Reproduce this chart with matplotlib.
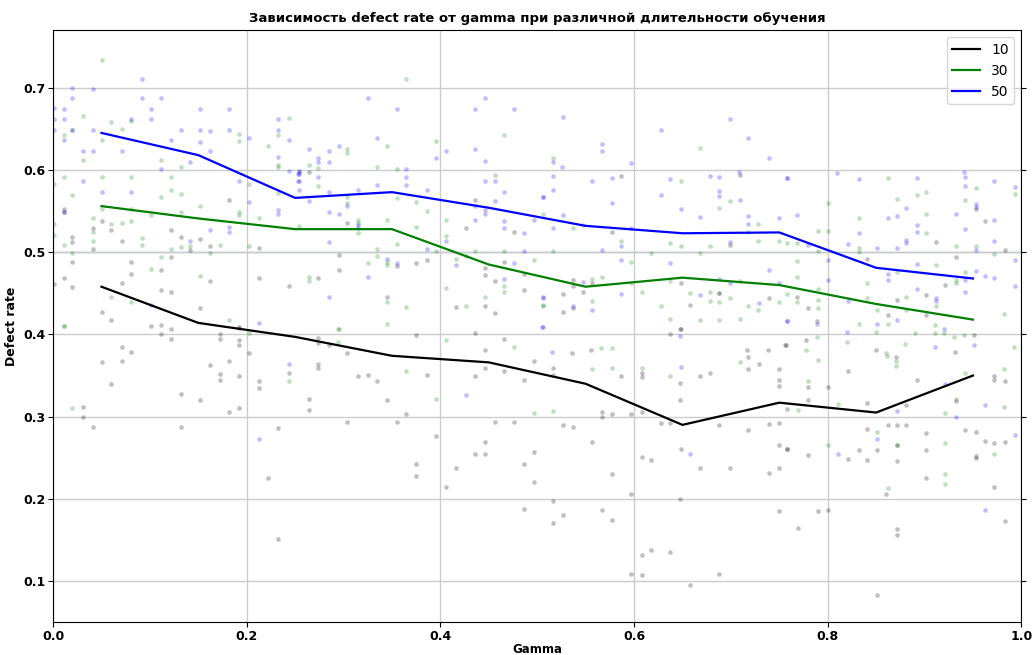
import numpy as np
import matplotlib
matplotlib.use("Agg")
import matplotlib.pyplot as plt

# mean defect rate per gamma bin
gamma_bins = [0.05, 0.15, 0.25, 0.35, 0.45, 0.55, 0.65, 0.75, 0.85, 0.95]
mean_10 = [0.458, 0.414, 0.397, 0.374, 0.366, 0.340, 0.290, 0.317, 0.305, 0.350]
mean_30 = [0.556, 0.541, 0.528, 0.528, 0.485, 0.458, 0.469, 0.460, 0.437, 0.418]
mean_50 = [0.645, 0.618, 0.566, 0.573, 0.554, 0.532, 0.523, 0.524, 0.481, 0.468]

# raw runs (gamma, defect rate)
runs_10 = [
    (0.182, 0.564), (0.011, 0.552), (0.011, 0.549), (0.051, 0.538), (0.060, 0.527), (0.122, 0.527),
    (0.041, 0.530), (0.020, 0.518), (0.020, 0.512), (0.071, 0.514), (0.132, 0.518), (0.152, 0.516),
    (0.162, 0.507), (0.041, 0.504), (0.141, 0.503), (0.213, 0.505), (0.020, 0.488), (0.081, 0.488),
    (0.122, 0.494), (0.011, 0.468), (0.001, 0.461), (0.020, 0.458), (0.071, 0.462), (0.081, 0.473),
    (0.111, 0.478), (0.111, 0.454), (0.122, 0.451), (0.162, 0.465), (0.213, 0.469), (0.244, 0.459),
    (0.152, 0.432), (0.051, 0.427), (0.060, 0.417), (0.101, 0.410), (0.111, 0.412), (0.122, 0.407),
    (0.192, 0.409), (0.111, 0.400), (0.122, 0.395), (0.172, 0.401), (0.172, 0.394), (0.192, 0.408),
    (0.192, 0.393), (0.192, 0.387), (0.071, 0.385), (0.081, 0.379), (0.202, 0.377), (0.051, 0.366),
    (0.071, 0.368), (0.162, 0.363), (0.182, 0.368), (0.172, 0.352), (0.172, 0.345), (0.192, 0.350),
    (0.213, 0.343), (0.213, 0.335), (0.244, 0.353), (0.060, 0.340), (0.132, 0.327), (0.152, 0.320),
    (0.031, 0.312), (0.192, 0.311), (0.182, 0.306), (0.031, 0.299), (0.041, 0.288), (0.132, 0.287),
    (0.232, 0.286), (0.222, 0.226), (0.232, 0.151),
    (0.264, 0.597), (0.254, 0.597), (0.436, 0.564), (0.304, 0.536), (0.426, 0.530), (0.476, 0.524),
    (0.295, 0.496), (0.386, 0.491), (0.375, 0.487), (0.355, 0.483), (0.295, 0.478), (0.274, 0.469),
    (0.446, 0.481), (0.446, 0.472), (0.466, 0.488), (0.456, 0.465), (0.486, 0.474), (0.486, 0.454),
    (0.345, 0.445), (0.416, 0.433), (0.446, 0.435), (0.456, 0.426),
    (0.274, 0.396), (0.274, 0.389), (0.285, 0.387), (0.304, 0.377), (0.274, 0.364), (0.274, 0.359),
    (0.315, 0.350), (0.325, 0.351), (0.335, 0.343), (0.375, 0.399), (0.386, 0.351), (0.264, 0.322),
    (0.264, 0.308), (0.345, 0.320), (0.365, 0.303), (0.304, 0.294), (0.355, 0.294), (0.395, 0.276),
    (0.375, 0.243), (0.375, 0.228), (0.406, 0.215), (0.416, 0.238), (0.436, 0.402), (0.466, 0.395),
    (0.446, 0.381), (0.497, 0.368), (0.446, 0.359), (0.466, 0.356), (0.436, 0.350), (0.486, 0.345),
    (0.456, 0.294), (0.476, 0.293), (0.446, 0.269), (0.436, 0.254), (0.446, 0.254), (0.486, 0.242),
    (0.497, 0.257), (0.497, 0.221), (0.486, 0.188),
    (0.587, 0.593), (0.709, 0.594), (0.577, 0.524), (0.699, 0.509), (0.537, 0.466), (0.537, 0.459),
    (0.557, 0.463), (0.547, 0.452), (0.527, 0.449), (0.648, 0.463), (0.688, 0.450), (0.527, 0.427),
    (0.537, 0.432), (0.658, 0.436), (0.739, 0.444), (0.648, 0.406),
    (0.647, 0.406), (0.637, 0.400), (0.536, 0.377), (0.556, 0.381), (0.516, 0.359), (0.516, 0.351),
    (0.587, 0.350), (0.608, 0.353), (0.608, 0.348), (0.647, 0.341), (0.647, 0.320), (0.668, 0.349),
    (0.678, 0.353), (0.717, 0.381), (0.718, 0.373), (0.718, 0.358), (0.729, 0.364), (0.738, 0.381),
    (0.750, 0.358), (0.750, 0.345), (0.750, 0.337), (0.756, 0.387), (0.567, 0.306), (0.567, 0.299),
    (0.577, 0.303), (0.597, 0.303), (0.608, 0.306), (0.527, 0.290), (0.537, 0.288), (0.628, 0.292),
    (0.637, 0.292), (0.688, 0.290), (0.718, 0.284), (0.739, 0.291), (0.750, 0.292), (0.557, 0.269),
    (0.608, 0.251), (0.618, 0.247), (0.648, 0.261), (0.750, 0.265), (0.758, 0.261), (0.668, 0.238),
    (0.699, 0.237), (0.739, 0.232), (0.750, 0.238), (0.577, 0.230), (0.516, 0.197), (0.527, 0.181),
    (0.516, 0.171), (0.567, 0.186), (0.577, 0.174), (0.597, 0.206), (0.647, 0.200), (0.750, 0.185),
    (0.608, 0.132), (0.618, 0.138), (0.637, 0.136), (0.597, 0.109), (0.608, 0.107), (0.688, 0.109),
    (0.658, 0.095),
    (0.953, 0.553), (0.962, 0.538), (0.912, 0.512), (0.983, 0.503), (0.841, 0.492), (0.932, 0.494),
    (0.921, 0.460), (0.902, 0.448), (0.872, 0.442), (0.768, 0.445), (0.780, 0.432), (0.862, 0.424),
    (0.902, 0.424), (0.789, 0.416),
    (0.757, 0.387), (0.778, 0.393), (0.850, 0.381), (0.871, 0.373), (0.931, 0.379), (0.951, 0.399),
    (0.821, 0.355), (0.892, 0.345), (0.972, 0.349), (0.972, 0.345), (0.983, 0.343), (0.780, 0.336),
    (0.800, 0.336), (0.780, 0.320), (0.758, 0.309), (0.841, 0.316), (0.881, 0.314), (0.932, 0.319),
    (0.862, 0.290), (0.872, 0.290), (0.881, 0.290), (0.841, 0.285), (0.902, 0.280), (0.942, 0.284),
    (0.953, 0.281), (0.962, 0.270), (0.972, 0.268), (0.983, 0.269), (0.758, 0.261), (0.780, 0.253),
    (0.821, 0.249), (0.832, 0.259), (0.841, 0.247), (0.851, 0.259), (0.872, 0.266), (0.872, 0.246),
    (0.902, 0.259), (0.953, 0.252), (0.953, 0.250), (0.902, 0.226), (0.972, 0.215), (0.860, 0.206),
    (0.790, 0.185), (0.800, 0.186), (0.769, 0.165), (0.872, 0.163), (0.872, 0.156), (0.983, 0.173),
    (0.851, 0.083),
]

runs_30 = [
    (0.051, 0.734), (0.031, 0.666), (0.060, 0.658), (0.081, 0.659), (0.071, 0.650), (0.011, 0.643),
    (0.020, 0.649), (0.051, 0.637), (0.192, 0.644), (0.192, 0.635), (0.232, 0.643), (0.244, 0.663),
    (0.222, 0.629), (0.031, 0.612), (0.111, 0.612), (0.132, 0.604), (0.232, 0.606), (0.232, 0.604),
    (0.011, 0.591), (0.051, 0.591), (0.081, 0.591), (0.122, 0.592), (0.001, 0.583), (0.020, 0.570),
    (0.122, 0.575), (0.111, 0.567), (0.132, 0.571), (0.152, 0.556), (0.202, 0.583), (0.232, 0.572),
    (0.051, 0.552), (0.041, 0.542), (0.081, 0.552), (0.081, 0.538), (0.060, 0.534), (0.071, 0.536),
    (0.101, 0.545), (0.132, 0.549), (0.192, 0.549), (0.192, 0.545), (0.213, 0.542), (0.001, 0.534),
    (0.001, 0.521), (0.041, 0.524), (0.041, 0.513), (0.092, 0.517), (0.092, 0.509), (0.011, 0.509),
    (0.132, 0.506), (0.122, 0.504), (0.141, 0.507), (0.162, 0.499), (0.172, 0.509), (0.202, 0.508),
    (0.020, 0.499), (0.111, 0.494), (0.101, 0.480), (0.152, 0.471), (0.060, 0.445), (0.081, 0.440),
    (0.011, 0.410), (0.182, 0.417), (0.011, 0.410), (0.020, 0.310), (0.202, 0.402), (0.244, 0.343),
    (0.365, 0.711), (0.395, 0.635), (0.466, 0.642), (0.304, 0.625), (0.304, 0.620), (0.345, 0.629),
    (0.264, 0.606), (0.274, 0.602), (0.335, 0.604), (0.355, 0.601), (0.456, 0.594), (0.274, 0.581),
    (0.304, 0.567), (0.304, 0.560), (0.355, 0.566), (0.375, 0.561), (0.386, 0.550), (0.254, 0.532),
    (0.315, 0.539), (0.315, 0.535), (0.315, 0.523), (0.345, 0.539), (0.375, 0.531), (0.406, 0.539),
    (0.406, 0.520), (0.355, 0.510), (0.335, 0.504), (0.395, 0.502), (0.436, 0.501), (0.466, 0.501),
    (0.335, 0.495), (0.325, 0.487), (0.345, 0.488), (0.345, 0.484), (0.416, 0.492), (0.426, 0.495),
    (0.497, 0.491), (0.264, 0.470), (0.264, 0.465), (0.466, 0.459), (0.466, 0.452), (0.406, 0.457),
    (0.446, 0.446), (0.345, 0.440), (0.365, 0.433), (0.426, 0.435), (0.506, 0.435), (0.345, 0.413),
    (0.295, 0.407), (0.294, 0.406), (0.294, 0.391), (0.365, 0.355), (0.395, 0.322), (0.406, 0.393),
    (0.476, 0.385), (0.497, 0.304),
    (0.516, 0.614), (0.668, 0.627), (0.648, 0.587), (0.699, 0.562), (0.688, 0.554), (0.506, 0.546),
    (0.537, 0.530), (0.547, 0.533), (0.728, 0.534), (0.718, 0.525), (0.728, 0.514), (0.750, 0.514),
    (0.587, 0.514), (0.637, 0.511), (0.648, 0.507), (0.678, 0.507), (0.516, 0.501), (0.618, 0.499),
    (0.668, 0.499), (0.597, 0.488), (0.567, 0.470), (0.557, 0.467), (0.597, 0.462), (0.637, 0.465),
    (0.709, 0.465), (0.608, 0.452), (0.658, 0.450), (0.678, 0.452), (0.688, 0.450), (0.678, 0.441),
    (0.688, 0.440), (0.699, 0.444), (0.557, 0.441), (0.506, 0.436), (0.628, 0.434), (0.718, 0.434),
    (0.728, 0.430), (0.750, 0.440), (0.637, 0.419), (0.668, 0.418), (0.688, 0.418), (0.709, 0.419),
    (0.566, 0.384), (0.577, 0.384), (0.557, 0.358), (0.577, 0.359), (0.608, 0.359), (0.637, 0.349),
    (0.709, 0.367), (0.516, 0.307),
    (0.862, 0.590), (0.892, 0.570), (0.902, 0.573), (0.953, 0.578), (0.993, 0.571), (0.800, 0.560),
    (0.872, 0.565), (0.942, 0.563), (0.902, 0.546), (0.832, 0.541), (0.790, 0.526), (0.800, 0.526),
    (0.902, 0.523), (0.758, 0.511), (0.768, 0.511), (0.790, 0.502), (0.832, 0.505), (0.832, 0.500),
    (0.932, 0.507), (0.953, 0.508), (0.972, 0.498), (0.768, 0.489), (0.912, 0.484), (0.872, 0.476),
    (0.942, 0.476), (0.768, 0.470), (0.841, 0.462), (0.932, 0.466), (0.932, 0.462), (0.790, 0.455),
    (0.758, 0.449), (0.841, 0.444), (0.881, 0.445), (0.768, 0.440), (0.790, 0.442), (0.790, 0.432),
    (0.912, 0.434), (0.851, 0.430), (0.881, 0.430), (0.832, 0.413), (0.862, 0.413), (0.911, 0.411),
    (0.982, 0.425),
    (0.789, 0.397), (0.778, 0.381), (0.820, 0.391), (0.850, 0.403), (0.860, 0.377), (0.861, 0.374),
    (0.871, 0.368), (0.871, 0.362), (0.880, 0.388), (0.890, 0.402), (0.911, 0.402), (0.920, 0.402),
    (0.930, 0.397), (0.941, 0.399), (0.992, 0.385), (0.790, 0.369), (0.780, 0.343), (0.982, 0.358),
    (0.942, 0.353), (0.811, 0.315), (0.769, 0.308), (0.932, 0.322), (0.921, 0.304), (0.982, 0.312),
    (0.851, 0.281), (0.800, 0.266), (0.872, 0.266), (0.921, 0.268), (0.972, 0.254), (0.921, 0.230),
    (0.921, 0.218), (0.862, 0.213),
]

runs_50 = [
    (0.092, 0.711), (0.020, 0.700), (0.041, 0.699), (0.020, 0.687), (0.092, 0.687), (0.111, 0.687),
    (0.001, 0.675), (0.011, 0.674), (0.101, 0.674), (0.152, 0.674), (0.182, 0.674), (0.001, 0.662),
    (0.011, 0.662), (0.081, 0.662), (0.101, 0.662), (0.001, 0.648), (0.020, 0.649), (0.041, 0.648),
    (0.132, 0.648), (0.152, 0.648), (0.162, 0.647), (0.182, 0.648), (0.011, 0.637), (0.122, 0.637),
    (0.152, 0.634), (0.031, 0.623), (0.041, 0.623), (0.071, 0.623), (0.162, 0.623), (0.141, 0.610),
    (0.111, 0.601), (0.031, 0.586), (0.192, 0.586), (0.051, 0.573), (0.081, 0.573), (0.011, 0.549),
    (0.162, 0.527), (0.182, 0.531), (0.182, 0.524), (0.141, 0.514), (0.101, 0.436), (0.213, 0.414),
    (0.232, 0.662), (0.232, 0.648), (0.244, 0.637), (0.232, 0.616), (0.244, 0.599), (0.202, 0.639),
    (0.202, 0.561), (0.232, 0.551), (0.232, 0.547), (0.253, 0.595), (0.253, 0.587), (0.213, 0.273),
    (0.244, 0.364),
    (0.325, 0.687), (0.355, 0.674), (0.436, 0.674), (0.446, 0.687), (0.476, 0.674), (0.335, 0.639),
    (0.264, 0.626), (0.285, 0.623), (0.295, 0.629), (0.274, 0.614), (0.274, 0.610), (0.285, 0.610),
    (0.395, 0.614), (0.406, 0.623), (0.436, 0.626), (0.446, 0.611), (0.254, 0.599), (0.254, 0.595),
    (0.274, 0.592), (0.365, 0.601), (0.365, 0.592), (0.254, 0.587), (0.254, 0.576), (0.285, 0.573),
    (0.315, 0.576), (0.335, 0.582), (0.365, 0.582), (0.386, 0.576), (0.264, 0.562), (0.304, 0.556),
    (0.446, 0.586), (0.456, 0.587), (0.466, 0.573), (0.456, 0.562), (0.436, 0.556), (0.446, 0.551),
    (0.446, 0.546), (0.436, 0.539), (0.466, 0.538), (0.466, 0.530), (0.486, 0.523), (0.497, 0.539),
    (0.506, 0.567), (0.285, 0.549), (0.295, 0.547), (0.315, 0.533), (0.315, 0.530), (0.285, 0.512),
    (0.406, 0.513), (0.386, 0.504), (0.486, 0.501), (0.345, 0.492), (0.355, 0.487), (0.416, 0.484),
    (0.476, 0.487), (0.325, 0.470), (0.466, 0.467), (0.285, 0.445), (0.506, 0.444), (0.426, 0.326),
    (0.527, 0.664), (0.699, 0.662), (0.628, 0.648), (0.718, 0.639), (0.567, 0.631), (0.567, 0.623),
    (0.739, 0.614), (0.516, 0.610), (0.526, 0.604), (0.597, 0.609), (0.516, 0.593), (0.577, 0.590),
    (0.557, 0.587), (0.637, 0.589), (0.678, 0.593), (0.688, 0.591), (0.708, 0.598), (0.758, 0.590),
    (0.516, 0.576), (0.688, 0.574), (0.688, 0.568), (0.506, 0.567), (0.628, 0.570), (0.709, 0.564),
    (0.577, 0.560), (0.648, 0.552), (0.527, 0.545), (0.668, 0.543), (0.718, 0.544), (0.718, 0.534),
    (0.516, 0.530), (0.750, 0.541), (0.597, 0.530), (0.699, 0.512), (0.567, 0.503), (0.587, 0.507),
    (0.587, 0.491), (0.637, 0.487), (0.739, 0.478), (0.750, 0.462), (0.688, 0.467), (0.699, 0.462),
    (0.547, 0.464), (0.506, 0.445), (0.668, 0.448), (0.587, 0.449), (0.537, 0.434), (0.557, 0.430),
    (0.729, 0.438), (0.506, 0.409), (0.758, 0.416), (0.515, 0.379), (0.647, 0.398), (0.648, 0.360),
    (0.658, 0.255), (0.505, 0.409),
    (0.758, 0.590), (0.810, 0.596), (0.832, 0.589), (0.892, 0.590), (0.941, 0.598), (0.942, 0.592),
    (0.942, 0.581), (0.972, 0.586), (0.993, 0.579), (0.953, 0.559), (0.953, 0.555), (0.768, 0.545),
    (0.832, 0.523), (0.862, 0.541), (0.872, 0.544), (0.881, 0.554), (0.892, 0.533), (0.892, 0.525),
    (0.932, 0.546), (0.942, 0.528), (0.972, 0.539), (0.972, 0.514), (0.821, 0.510), (0.851, 0.505),
    (0.872, 0.505), (0.881, 0.515), (0.881, 0.511), (0.953, 0.503), (0.780, 0.509), (0.892, 0.486),
    (0.953, 0.477), (0.962, 0.471), (0.972, 0.469), (0.942, 0.466), (0.993, 0.490), (0.993, 0.459),
    (0.800, 0.490), (0.800, 0.466), (0.862, 0.473), (0.862, 0.466), (0.892, 0.455), (0.942, 0.452),
    (0.912, 0.444), (0.912, 0.441), (0.821, 0.441), (0.872, 0.417), (0.851, 0.413), (0.758, 0.416),
    (0.789, 0.413),
    (0.820, 0.403), (0.911, 0.385), (0.920, 0.406), (0.951, 0.387), (0.921, 0.340), (0.962, 0.314),
    (0.932, 0.300), (0.872, 0.307), (0.993, 0.278), (0.851, 0.273), (0.811, 0.255), (0.962, 0.186),
]

series = [("10", "black", runs_10, mean_10),
          ("30", "green", runs_30, mean_30),
          ("50", "blue", runs_50, mean_50)]

fig = plt.figure(figsize=(10.34, 6.55), dpi=100)
ax = fig.add_axes([0.0513, 0.05, 0.9365, 0.904])

for label, color, runs, means in series:
    pts = np.array(runs)
    ax.scatter(pts[:, 0], pts[:, 1], s=11, color=color, alpha=0.25, linewidths=0)

for label, color, runs, means in series:
    ax.plot(gamma_bins, means, color=color, linewidth=1.6, label=label)

ax.axhline(0.5, color="#9fb0c0", linewidth=1.0, zorder=0.5)
ax.grid(True, color="#cccccc", linewidth=1.0)
ax.set_axisbelow(True)

ax.set_xlim(0, 1)
ax.set_ylim(0.05, 0.77)
ax.set_xticks([0.0, 0.2, 0.4, 0.6, 0.8, 1.0])
ax.set_yticks([0.1, 0.2, 0.3, 0.4, 0.5, 0.6, 0.7])
ax.tick_params(labelsize=9, right=True, pad=2)
for t in ax.get_xticklabels() + ax.get_yticklabels():
    t.set_fontweight("bold")

ax.set_title("Зависимость defect rate от gamma при различной длительности обучения",
             fontsize=9.5, fontweight="bold", pad=6)
ax.set_xlabel("Gamma", fontsize=8.5, fontweight="bold", labelpad=0)
ax.set_ylabel("Defect rate", fontsize=9, fontweight="bold", labelpad=4)
ax.legend(loc="upper right", fontsize=10)

fig.savefig("out.png", dpi=100)
